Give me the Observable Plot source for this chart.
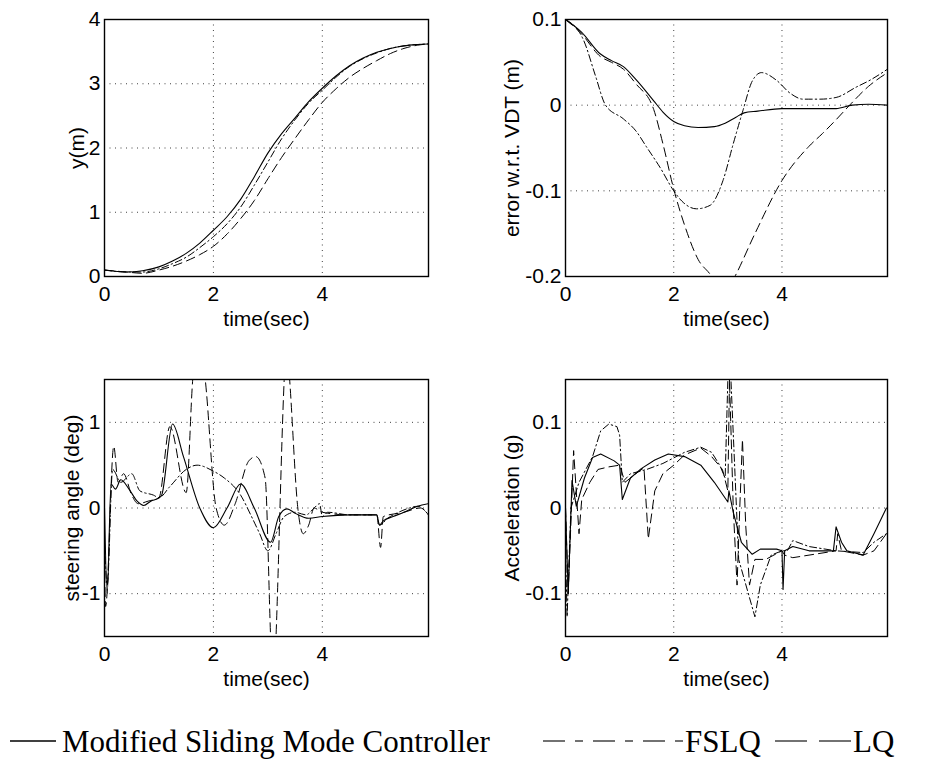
<!DOCTYPE html>
<html><head><meta charset="utf-8">
<script src="https://cdn.jsdelivr.net/npm/d3@7"></script>
<script src="https://cdn.jsdelivr.net/npm/@observablehq/plot@0.6"></script>
<style>
body{margin:0;background:#fff;}
#root{position:relative;width:932px;height:768px;overflow:hidden;background:#fff;}
#root svg{position:absolute;}
</style></head><body><div id="root"></div>
<script>
// ---- shared ----
const xTicks = [0, 2, 4];
const xDomain = [0, 5.95];
const seriesNames = ["Modified Sliding Mode Controller", "FSLQ", "LQ"];

// ---- panel 1: y(m) ----
const pos_SMC = [[0,0.1],[0.4,0.07],[0.7,0.09],[1.0,0.15],[1.25,0.24],[1.5,0.36],[1.75,0.52],[2.0,0.72],[2.25,0.93],[2.5,1.2],[2.75,1.55],[3.0,1.92],[3.25,2.22],[3.5,2.47],[3.75,2.72],[4.0,2.93],[4.25,3.12],[4.5,3.28],[4.75,3.4],[5.0,3.49],[5.25,3.55],[5.5,3.59],[5.75,3.61],[5.95,3.62]];
const pos_FSLQ = [[0,0.1],[0.4,0.07],[0.7,0.07],[1.0,0.12],[1.25,0.2],[1.5,0.3],[1.75,0.45],[2.0,0.62],[2.25,0.82],[2.5,1.08],[2.75,1.42],[3.0,1.78],[3.25,2.14],[3.5,2.44],[3.75,2.7],[4.0,2.9],[4.25,3.1],[4.5,3.27],[4.75,3.39],[5.0,3.48],[5.25,3.55],[5.5,3.59],[5.75,3.61],[5.95,3.62]];
const pos_LQ = [[0,0.1],[0.4,0.07],[0.7,0.05],[1.0,0.1],[1.25,0.16],[1.5,0.24],[1.75,0.34],[2.0,0.47],[2.25,0.66],[2.5,0.9],[2.75,1.18],[3.0,1.52],[3.25,1.85],[3.5,2.15],[3.75,2.44],[4.0,2.71],[4.25,2.92],[4.5,3.1],[4.75,3.24],[5.0,3.36],[5.25,3.47],[5.5,3.55],[5.75,3.6],[5.95,3.62]];
const pos_yTicks = [0, 1, 2, 3, 4];

// ---- panel 2: error w.r.t. VDT ----
const err_SMC = [[0,0.1],[0.3,0.085],[0.64,0.06],[0.85,0.052],[1.07,0.045],[1.3,0.03],[1.63,0.005],[1.8,-0.008],[2.0,-0.019],[2.2,-0.024],[2.45,-0.026],[2.75,-0.025],[2.95,-0.021],[3.15,-0.014],[3.3,-0.009],[3.55,-0.007],[4.0,-0.004],[4.5,-0.004],[5.0,-0.004],[5.3,0.0],[5.6,0.001],[5.95,0.0]];
const err_FSLQ = [[0,0.1],[0.34,0.075],[0.55,0.035],[0.74,0.0],[1.07,-0.016],[1.3,-0.03],[1.5,-0.049],[1.75,-0.073],[2.0,-0.1],[2.15,-0.112],[2.42,-0.121],[2.67,-0.117],[2.91,-0.088],[3.1,-0.045],[3.28,-0.006],[3.45,0.028],[3.62,0.038],[3.9,0.029],[4.15,0.014],[4.39,0.007],[4.7,0.007],[5.0,0.009],[5.37,0.021],[5.65,0.03],[5.95,0.042]];
const err_LQ = [[0,0.1],[0.3,0.083],[0.64,0.057],[0.85,0.05],[1.07,0.042],[1.3,0.025],[1.63,-0.005],[1.8,-0.045],[2.0,-0.098],[2.2,-0.14],[2.45,-0.18],[2.7,-0.2],[2.9,-0.225],[3.13,-0.2],[3.5,-0.15],[4.0,-0.088],[4.5,-0.048],[4.75,-0.033],[5.0,-0.017],[5.25,0.0],[5.6,0.022],[5.95,0.038]];
const err_yTicks = [-0.2, -0.1, 0, 0.1];

// ---- panel 3: steering angle ----
const steer_SMC = [[0,0.0],[0.05,-1.0],[0.12,0.28],[0.2,0.22],[0.3,0.33],[0.45,0.22],[0.6,0.08],[0.72,0.03],[0.85,0.08],[1.0,0.12],[1.05,0.15],[1.25,0.98],[1.45,0.6],[1.75,0.0],[2.0,-0.23],[2.25,0.0],[2.5,0.28],[2.75,0.0],[3.05,-0.4],[3.2,-0.1],[3.35,-0.01],[3.5,-0.06],[3.75,-0.12],[4.0,-0.1],[4.5,-0.08],[5.0,-0.08],[5.05,-0.2],[5.12,-0.15],[5.3,-0.1],[5.5,-0.05],[5.75,0.02],[5.95,0.05]];
const steer_FSLQ = [[0,-0.4],[0.05,-0.9],[0.15,0.45],[0.3,0.3],[0.5,0.4],[0.65,0.2],[0.9,0.15],[1.0,0.12],[1.2,0.25],[1.5,0.45],[1.7,0.5],[2.0,0.43],[2.2,0.35],[2.5,0.15],[2.7,-0.1],[2.85,-0.3],[3.0,-0.5],[3.15,-0.3],[3.3,-0.1],[3.5,-0.05],[3.7,-0.08],[3.85,0.0],[3.95,0.05],[4.0,-0.1],[4.1,-0.05],[4.5,-0.08],[5.0,-0.08],[5.05,-0.2],[5.2,-0.12],[5.4,-0.05],[5.6,0.0],[5.75,0.02],[5.95,-0.08]];
const steer_LQ = [[0,-0.6],[0.02,-1.15],[0.17,0.72],[0.25,0.3],[0.35,0.4],[0.5,0.15],[0.62,0.05],[0.8,0.08],[1.0,0.12],[1.2,0.95],[1.5,0.18],[1.62,1.5],[1.72,2.1],[1.85,1.5],[2.05,0.0],[2.2,-0.2],[2.4,0.05],[2.65,0.55],[2.78,0.6],[2.95,0.35],[3.05,-1.5],[3.1,-2.3],[3.15,-1.5],[3.3,1.5],[3.34,2.0],[3.4,1.5],[3.55,0.0],[3.65,-0.3],[3.75,-0.2],[3.85,0.0],[4.0,-0.05],[4.5,-0.08],[5.0,-0.08],[5.07,-0.46],[5.12,-0.1],[5.5,-0.05],[5.8,0.0],[5.95,-0.08]];
const steer_yTicks = [-1, 0, 1];

// ---- panel 4: acceleration ----
const acc_SMC = [[0,0.0],[0.05,-0.1],[0.12,0.032],[0.2,0.002],[0.35,0.035],[0.5,0.059],[0.65,0.063],[0.9,0.055],[1.0,0.05],[1.05,0.01],[1.2,0.035],[1.4,0.046],[1.65,0.056],[1.9,0.063],[2.2,0.06],[2.5,0.05],[2.75,0.03],[3.0,0.007],[3.02,0.02],[3.1,-0.005],[3.25,-0.04],[3.45,-0.054],[3.6,-0.048],[3.9,-0.048],[4.0,-0.05],[4.02,-0.095],[4.05,-0.05],[4.2,-0.045],[4.5,-0.05],[4.95,-0.05],[5.0,-0.022],[5.1,-0.04],[5.2,-0.05],[5.5,-0.055],[5.7,-0.03],[5.93,0.0]];
const acc_FSLQ = [[0,-0.05],[0.03,-0.127],[0.1,0.0],[0.25,0.03],[0.5,0.06],[0.65,0.09],[0.8,0.098],[0.95,0.095],[1.0,0.085],[1.05,0.03],[1.2,0.04],[1.5,0.045],[1.8,0.052],[2.2,0.065],[2.5,0.071],[2.7,0.065],[2.85,0.05],[2.95,0.035],[3.0,0.15],[3.05,0.16],[3.2,-0.06],[3.5,-0.127],[3.6,-0.09],[3.8,-0.055],[4.0,-0.05],[4.1,-0.05],[4.2,-0.038],[4.5,-0.045],[5.0,-0.05],[5.5,-0.052],[5.7,-0.04],[5.93,-0.03]];
const acc_LQ = [[0,0.0],[0.05,-0.1],[0.15,0.067],[0.25,-0.03],[0.3,0.01],[0.45,0.03],[0.6,0.045],[0.8,0.048],[1.0,0.05],[1.1,0.03],[1.3,0.04],[1.45,0.047],[1.53,-0.036],[1.65,0.02],[1.8,0.04],[2.0,0.05],[2.2,0.062],[2.5,0.07],[2.7,0.06],[2.9,0.045],[3.0,0.02],[3.03,0.15],[3.1,0.0],[3.17,-0.09],[3.22,0.0],[3.27,0.08],[3.33,-0.02],[3.4,-0.09],[3.5,-0.06],[3.7,-0.06],[4.0,-0.05],[4.05,-0.055],[4.2,-0.058],[4.5,-0.055],[5.0,-0.05],[5.03,-0.03],[5.1,-0.05],[5.5,-0.055],[5.7,-0.05],[5.93,-0.03]];
const acc_yTicks = [-0.1, 0, 0.1];

// ---- styles ----
const dashes = {"Modified Sliding Mode Controller": null, "FSLQ": "7,3,1.5,3", "LQ": "9,5"};
const FONT = "'Liberation Sans', Arial, Helvetica, sans-serif";
const FS = 21;

function panel({sets, yDomain, yTicks, yLabel, yLabelDx, left, top, width, height, mL, mR, mT, mB, curve}) {
  const toRows = pts => pts.map(([t, v]) => ({t, v}));
  const lines = sets.map((pts, i) => Plot.line(toRows(pts), {
    x: "t", y: "v", stroke: "black", strokeWidth: i === 0 ? 1.1 : 1,
    strokeDasharray: dashes[seriesNames[i]], curve, clip: true
  }));
  const grid = {stroke: "#000", strokeOpacity: 0.75, strokeDasharray: "1,4.5", strokeWidth: 1};
  const svg = Plot.plot({
    width, height, marginLeft: mL, marginRight: mR, marginTop: mT, marginBottom: mB,
    style: {fontFamily: FONT, fontSize: FS + "px", background: "white", color: "black", overflow: "visible"},
    x: {domain: xDomain},
    y: {domain: yDomain},
    marks: [
      Plot.gridX(xTicks, grid),
      Plot.gridY(yTicks, grid),
      ...lines,
      Plot.frame({stroke: "black", strokeWidth: 1.4}),
      Plot.axisX(xTicks, {tickSize: 0, tickPadding: 10, tickFormat: d => String(d), label: null, fontSize: FS}),
      Plot.axisY(yTicks, {tickSize: 0, tickPadding: 4, tickFormat: d => String(d), label: null, fontSize: FS}),
      Plot.text([yLabel], {frameAnchor: "left", text: d => d, rotate: -90, dx: yLabelDx,
        textAnchor: "middle", lineAnchor: "middle", fontSize: FS, fill: "black"}),
      Plot.text(["time(sec)"], {frameAnchor: "bottom", text: d => d, dy: 43,
        textAnchor: "middle", lineAnchor: "middle", fontSize: FS, fill: "black"})
    ]
  });
  svg.style.left = left + "px";
  svg.style.top = top + "px";
  return svg;
}

const root = document.getElementById("root");
root.appendChild(panel({sets: [pos_SMC, pos_FSLQ, pos_LQ], yDomain: [0, 4], yTicks: pos_yTicks, yLabel: "y(m)", yLabelDx: -27,
  left: 0, top: 0, width: 450, height: 340, mL: 104, mR: 22, mT: 19, mB: 64, curve: "monotone-x"}));
root.appendChild(panel({sets: [err_SMC, err_FSLQ, err_LQ], yDomain: [-0.2, 0.1], yTicks: err_yTicks, yLabel: "error w.r.t. VDT (m)", yLabelDx: -53,
  left: 460, top: 0, width: 450, height: 340, mL: 105, mR: 23, mT: 19, mB: 64, curve: "monotone-x"}));
root.appendChild(panel({sets: [steer_SMC, steer_FSLQ, steer_LQ], yDomain: [-1.5, 1.5], yTicks: steer_yTicks, yLabel: "steering angle (deg)", yLabelDx: -32,
  left: 0, top: 340, width: 450, height: 360, mL: 104, mR: 22, mT: 39, mB: 64, curve: "monotone-x"}));
root.appendChild(panel({sets: [acc_SMC, acc_FSLQ, acc_LQ], yDomain: [-0.15, 0.15], yTicks: acc_yTicks, yLabel: "Acceleration (g)", yLabelDx: -53,
  left: 460, top: 340, width: 450, height: 360, mL: 105, mR: 23, mT: 39, mB: 64, curve: "linear"}));

// ---- legend ----
const NS = "http://www.w3.org/2000/svg";
const leg = document.createElementNS(NS, "svg");
leg.setAttribute("width", 932); leg.setAttribute("height", 68);
leg.style.left = "0px"; leg.style.top = "700px";
const legendItems = [
  {name: seriesNames[0], x1: 10, x2: 56, tx: 62, dash: null, color: "#000"},
  {name: seriesNames[1], x1: 543, x2: 683, tx: 685, dash: "22,10,8,10", color: "#444"},
  {name: seriesNames[2], x1: 775, x2: 853, tx: 853, dash: "32,12", color: "#444"}
];
for (const it of legendItems) {
  const l = document.createElementNS(NS, "line");
  l.setAttribute("x1", it.x1); l.setAttribute("x2", it.x2);
  l.setAttribute("y1", 41); l.setAttribute("y2", 41);
  l.setAttribute("stroke", it.color); l.setAttribute("stroke-width", 1.6);
  if (it.dash) l.setAttribute("stroke-dasharray", it.dash);
  leg.appendChild(l);
  const t = document.createElementNS(NS, "text");
  t.setAttribute("x", it.tx); t.setAttribute("y", 52);
  t.setAttribute("font-family", "'Liberation Serif', 'Times New Roman', serif");
  t.setAttribute("font-size", 31);
  t.setAttribute("fill", "#000");
  t.textContent = it.name;
  leg.appendChild(t);
}
root.appendChild(leg);
</script></body></html>
